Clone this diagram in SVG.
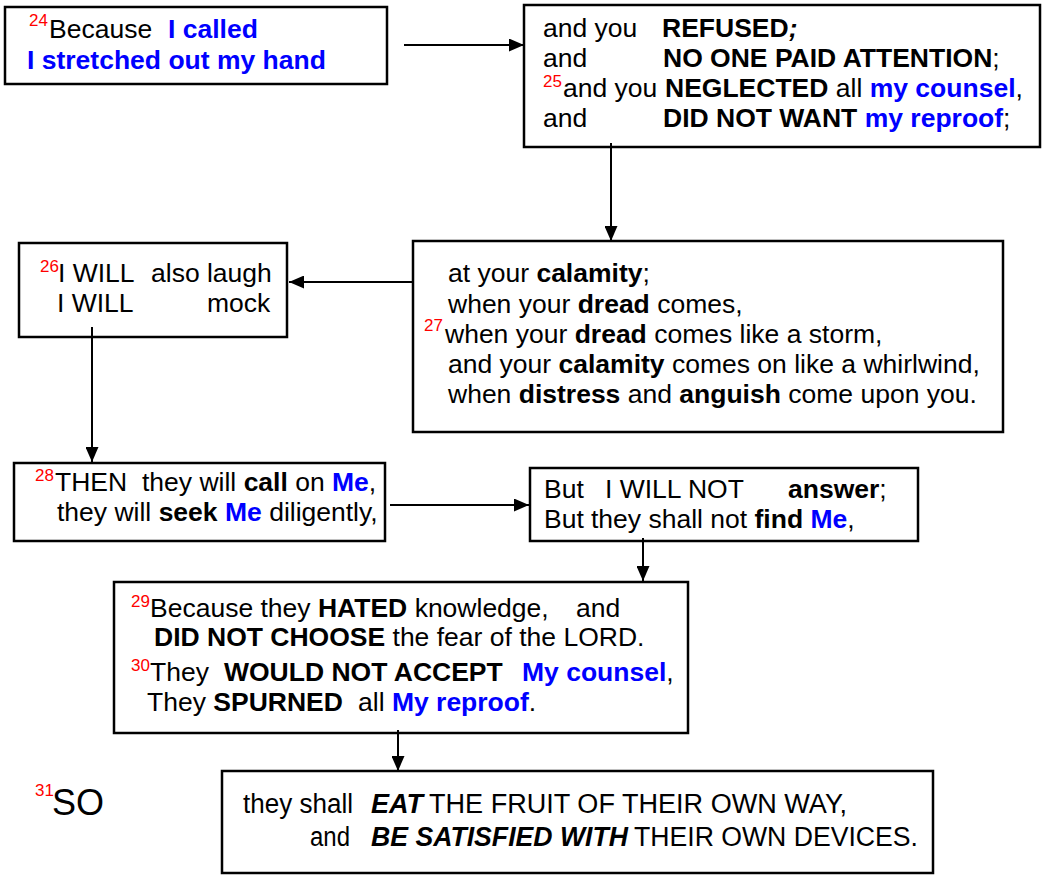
<svg xmlns="http://www.w3.org/2000/svg" width="1042" height="875" viewBox="0 0 1042 875">
<style>
text{font-family:"Liberation Sans",Arial,sans-serif;font-size:26.5px;fill:#000}
.b{font-weight:bold}
.bl{fill:#0000ff}
.i{font-style:italic}
.sup{font-size:17px;fill:#ff0000}
.n8{font-size:27px}
.box{fill:#fff;stroke:#000;stroke-width:2.5}
.conn line{stroke:#000;stroke-width:2;marker-end:url(#ah)}
</style>
<defs>
<marker id="ah" markerWidth="15" markerHeight="13" refX="15" refY="6.5" orient="auto" markerUnits="userSpaceOnUse"><path d="M0,0 L15,6.5 L0,13 z" fill="#000"/></marker>
</defs>
<rect width="1042" height="875" fill="#fff"/>

<g id="n24">
<rect class="box" x="5" y="7" width="382" height="77"/>
<text class="sup" x="29" y="26">24</text>
<text x="49" y="38">Because</text>
<text class="b bl" x="168" y="38">I called</text>
<text class="b bl" x="27" y="69">I stretched out my hand</text>
</g>

<g id="n24b">
<rect class="box" x="524" y="5" width="516" height="142"/>
<text x="543" y="37">and you</text>
<text class="b" x="662" y="37">REFUSED<tspan class="i">;</tspan></text>
<text x="543" y="67">and</text>
<text x="663" y="67"><tspan class="b">NO ONE PAID ATTENTION</tspan>;</text>
<text class="sup" x="543" y="87">25</text>
<text x="563" y="97">and you</text>
<text x="665" y="97"><tspan class="b">NEGLECTED</tspan> all <tspan class="b bl">my counsel</tspan>,</text>
<text x="543" y="127">and</text>
<text x="663" y="127"><tspan class="b">DID NOT WANT</tspan> <tspan class="b bl">my reproof</tspan>;</text>
</g>

<g id="n26">
<rect class="box" x="19" y="243" width="268" height="94"/>
<text class="sup" x="40" y="272">26</text>
<text x="58" y="282">I WILL</text>
<text x="151" y="282">also laugh</text>
<text x="57" y="312">I WILL</text>
<text x="207" y="312">mock</text>
</g>

<g id="n27">
<rect class="box" x="413" y="241" width="590" height="191"/>
<text x="448" y="282">at your <tspan class="b">calamity</tspan>;</text>
<text x="448" y="313">when your <tspan class="b">dread</tspan> comes,</text>
<text class="sup" x="424" y="331">27</text>
<text x="445" y="343">when your <tspan class="b">dread</tspan> comes like a storm,</text>
<text x="448" y="373">and your <tspan class="b">calamity</tspan> comes on like a whirlwind,</text>
<text x="448" y="403">when <tspan class="b">distress</tspan> and <tspan class="b">anguish</tspan> come upon you.</text>
</g>

<g id="n28">
<rect class="box" x="14" y="463" width="371" height="78"/>
<text class="sup" x="35" y="481">28</text>
<text x="55" y="491">THEN</text>
<text x="142" y="491">they will <tspan class="b">call</tspan> on <tspan class="b bl">Me</tspan>,</text>
<text x="57" y="521">they will <tspan class="b">seek</tspan> <tspan class="b bl">Me</tspan> diligently,</text>
</g>

<g id="n28b">
<rect class="box" x="530" y="468" width="388" height="73"/>
<text x="544" y="498">But</text>
<text x="605" y="498">I WILL NOT</text>
<text class="b" x="788" y="498">answer<tspan font-weight="normal">;</tspan></text>
<text x="544" y="528">But</text>
<text x="591" y="528">they shall not <tspan class="b">find</tspan> <tspan class="b bl">Me</tspan>,</text>
</g>

<g id="n29">
<rect class="box" x="114" y="582" width="574" height="151"/>
<text class="sup" x="131" y="607">29</text>
<text x="150" y="617">Because they <tspan class="b">HATED</tspan> knowledge,</text>
<text x="576" y="617">and</text>
<text x="154" y="646"><tspan class="b">DID NOT CHOOSE</tspan> the fear of the LORD.</text>
<text class="sup" x="131" y="671">30</text>
<text x="150" y="681">They</text>
<text class="b" x="224" y="681">WOULD NOT ACCEPT</text>
<text x="522" y="681"><tspan class="b bl">My counsel</tspan>,</text>
<text x="147" y="711">They <tspan class="b">SPURNED</tspan></text>
<text x="358" y="711">all <tspan class="b bl">My reproof</tspan>.</text>
</g>

<g id="n31">
<text class="sup" x="35" y="796">31</text>
<text x="52" y="815" style="font-size:36px">SO</text>
</g>

<g id="n31b">
<rect class="box" x="222" y="771" width="711" height="102"/>
<text class="n8" x="243" y="813" textLength="110" lengthAdjust="spacingAndGlyphs">they shall</text>
<text class="n8 b i" x="371" y="813" textLength="52" lengthAdjust="spacingAndGlyphs">EAT</text>
<text class="n8" x="429" y="813" textLength="418" lengthAdjust="spacingAndGlyphs">THE FRUIT OF THEIR OWN WAY,</text>
<text class="n8" x="310" y="846" textLength="40" lengthAdjust="spacingAndGlyphs">and</text>
<text class="n8 b i" x="371" y="846" textLength="257" lengthAdjust="spacingAndGlyphs">BE SATISFIED WITH</text>
<text class="n8" x="634" y="846" textLength="284" lengthAdjust="spacingAndGlyphs">THEIR OWN DEVICES.</text>
</g>

<g id="connectors" class="conn">
<line x1="404" y1="45" x2="524" y2="45"/>
<line x1="611" y1="143" x2="611" y2="241"/>
<line x1="413" y1="282" x2="289" y2="282"/>
<line x1="92" y1="327" x2="92" y2="462"/>
<line x1="390" y1="505" x2="529" y2="505"/>
<line x1="643" y1="538" x2="643" y2="581"/>
<line x1="398" y1="730" x2="398" y2="771"/>
</g>
</svg>
